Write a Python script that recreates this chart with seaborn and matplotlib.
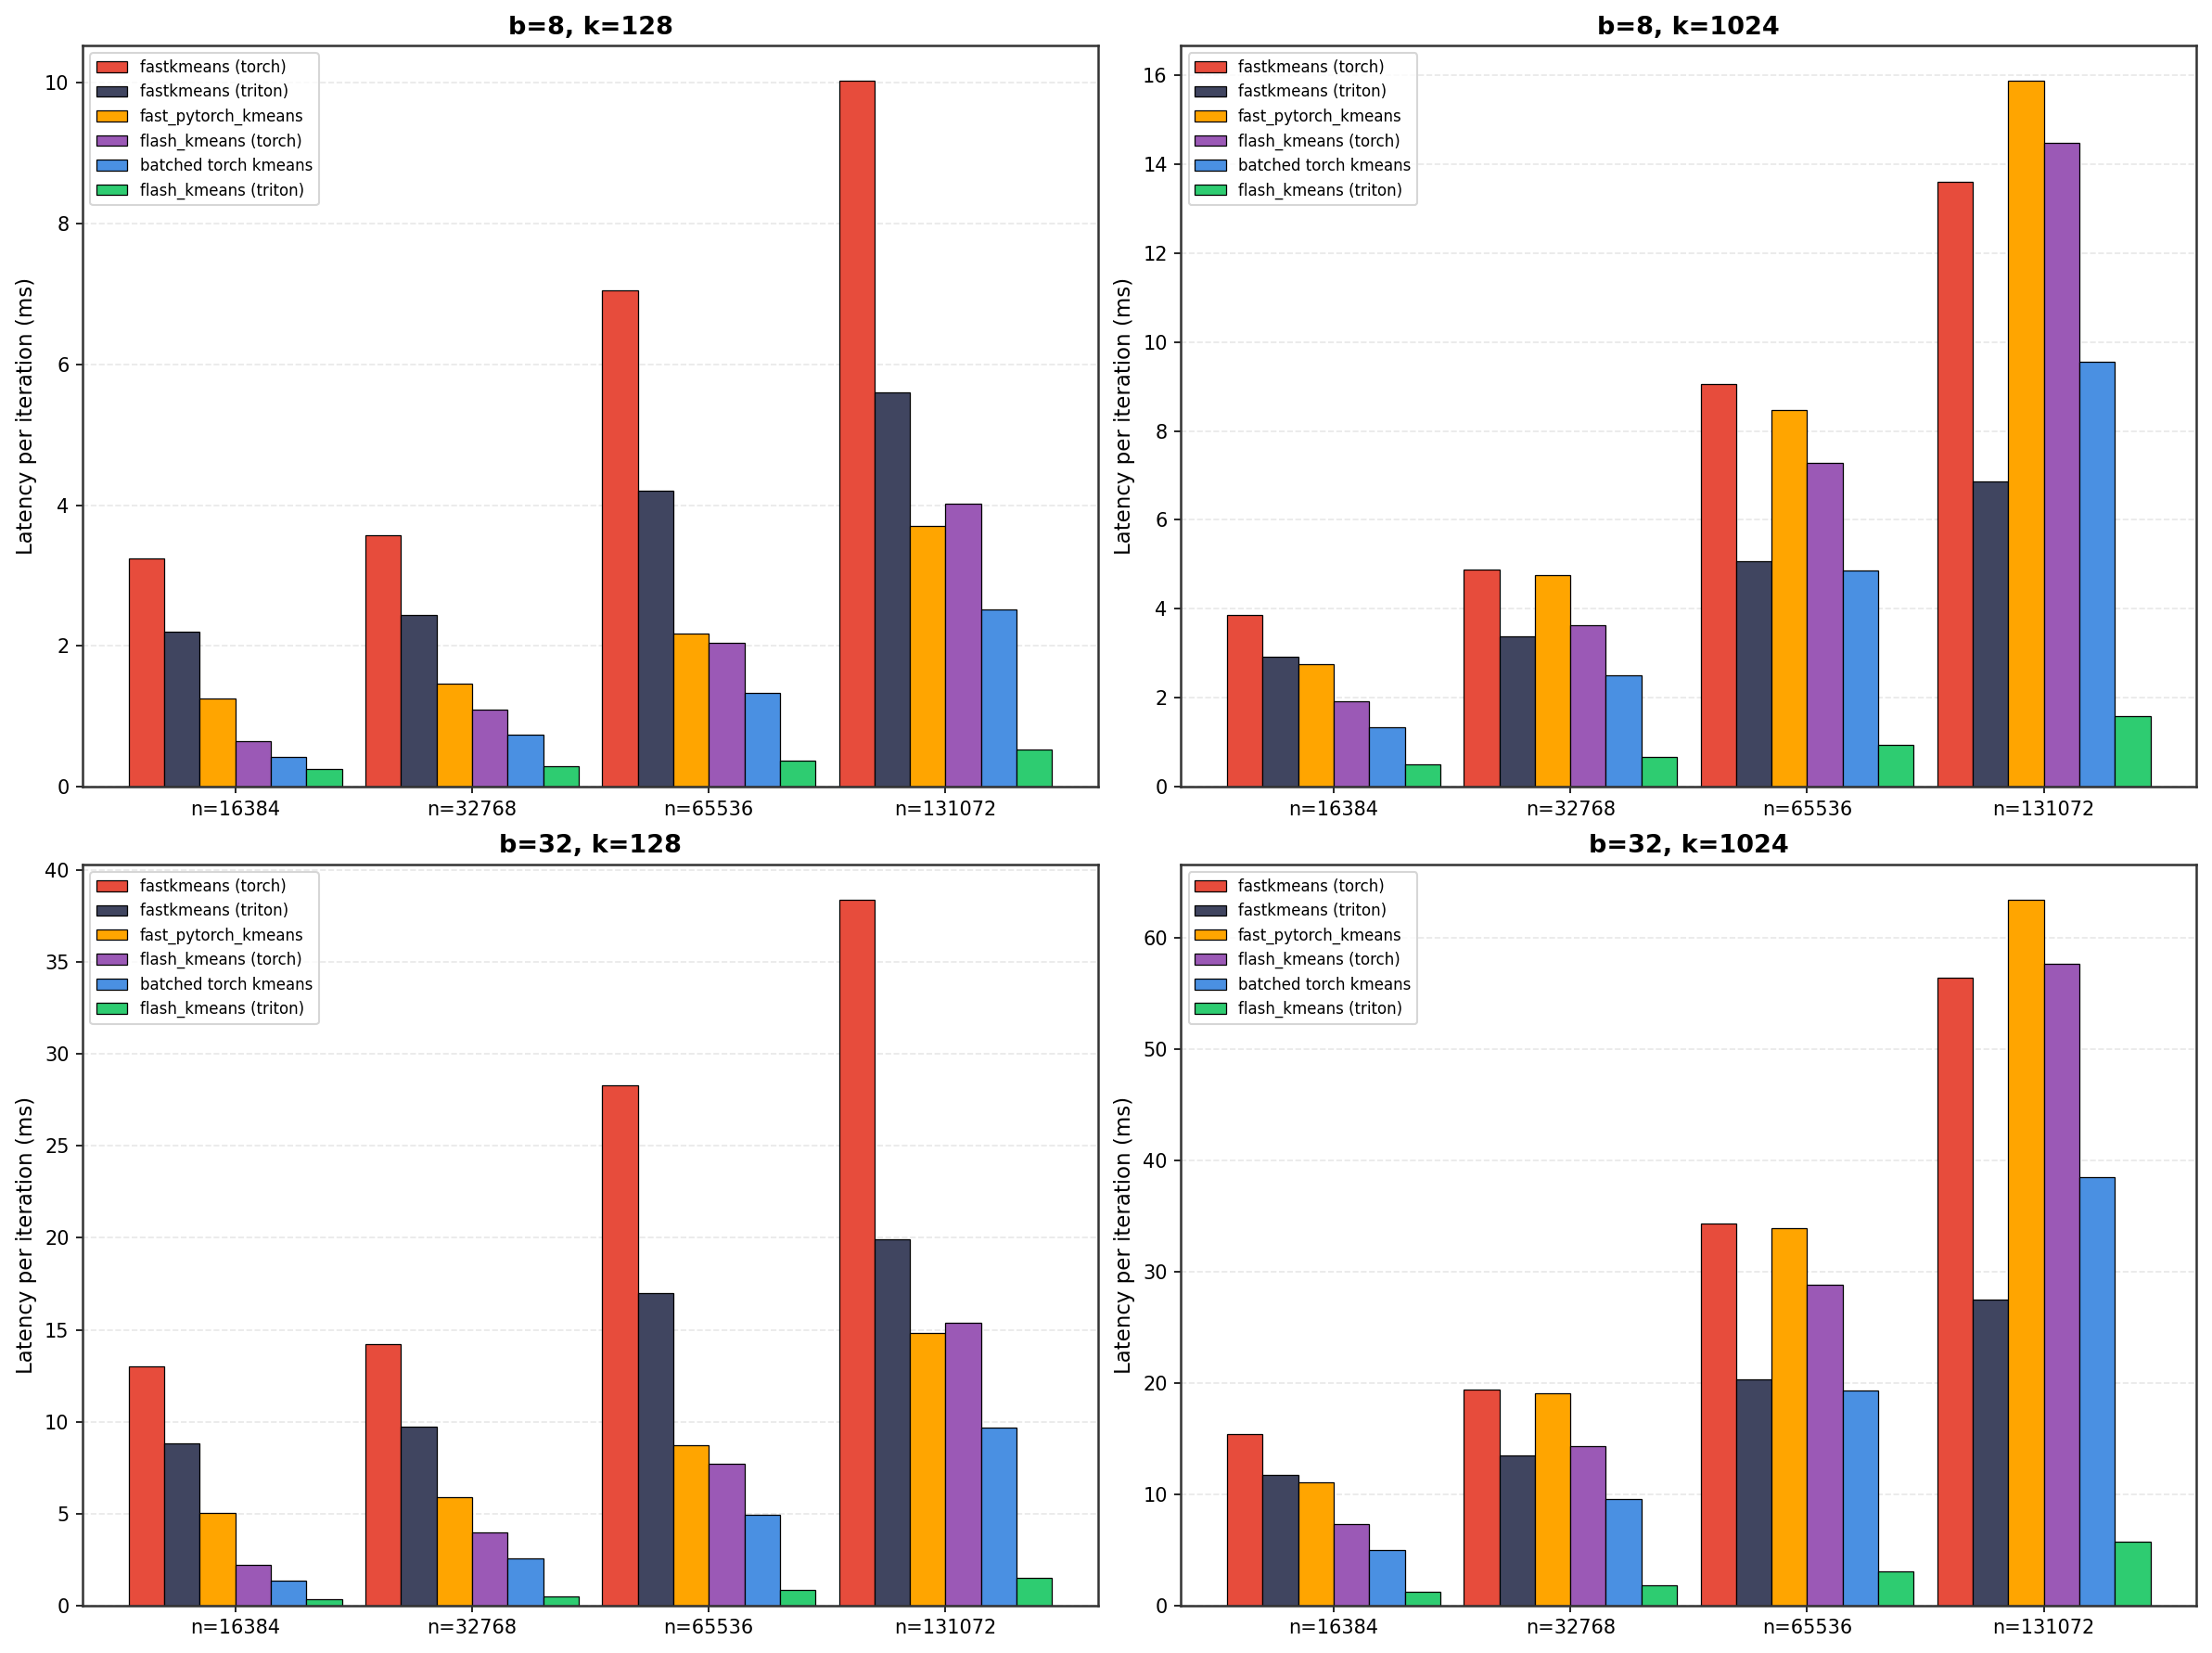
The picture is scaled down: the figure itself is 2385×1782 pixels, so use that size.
import pandas as pd
import seaborn as sns
import matplotlib.pyplot as plt

sizes = ['n=16384', 'n=32768', 'n=65536', 'n=131072']
methods = ['fastkmeans (torch)', 'fastkmeans (triton)', 'fast_pytorch_kmeans',
           'flash_kmeans (torch)', 'batched torch kmeans', 'flash_kmeans (triton)']
colors = ['#e74c3c', '#404560', '#ffa500', '#9b59b6', '#4a90e2', '#2ecc71']

# one list per method, values in the order of sizes
b8_k128 = {
    'fastkmeans (torch)': [3.25, 3.57, 7.05, 10.03],
    'fastkmeans (triton)': [2.20, 2.44, 4.20, 5.60],
    'fast_pytorch_kmeans': [1.25, 1.46, 2.17, 3.70],
    'flash_kmeans (torch)': [0.65, 1.09, 2.04, 4.02],
    'batched torch kmeans': [0.42, 0.74, 1.33, 2.52],
    'flash_kmeans (triton)': [0.25, 0.29, 0.37, 0.53],
}
b8_k1024 = {
    'fastkmeans (torch)': [3.85, 4.88, 9.06, 13.60],
    'fastkmeans (triton)': [2.92, 3.39, 5.06, 6.87],
    'fast_pytorch_kmeans': [2.75, 4.76, 8.47, 15.87],
    'flash_kmeans (torch)': [1.93, 3.64, 7.28, 14.47],
    'batched torch kmeans': [1.33, 2.50, 4.86, 9.56],
    'flash_kmeans (triton)': [0.51, 0.66, 0.95, 1.58],
}
b32_k128 = {
    'fastkmeans (torch)': [13.0, 14.2, 28.3, 38.4],
    'fastkmeans (triton)': [8.8, 9.75, 17.0, 19.9],
    'fast_pytorch_kmeans': [5.05, 5.9, 8.7, 14.8],
    'flash_kmeans (torch)': [2.2, 3.95, 7.7, 15.4],
    'batched torch kmeans': [1.33, 2.55, 4.95, 9.7],
    'flash_kmeans (triton)': [0.33, 0.5, 0.85, 1.52],
}
b32_k1024 = {
    'fastkmeans (torch)': [15.4, 19.4, 34.3, 56.4],
    'fastkmeans (triton)': [11.7, 13.5, 20.3, 27.5],
    'fast_pytorch_kmeans': [11.05, 19.1, 33.9, 63.4],
    'flash_kmeans (torch)': [7.35, 14.3, 28.8, 57.6],
    'batched torch kmeans': [4.95, 9.6, 19.3, 38.5],
    'flash_kmeans (triton)': [1.25, 1.8, 3.05, 5.7],
}

panels = [('b=8, k=128', b8_k128), ('b=8, k=1024', b8_k1024),
          ('b=32, k=128', b32_k128), ('b=32, k=1024', b32_k1024)]

fig, axes = plt.subplots(2, 2, figsize=(15.9, 11.88), dpi=150)

for ax, (title, vals) in zip(axes.flat, panels):
    rows = []
    for m in methods:
        for s, v in zip(sizes, vals[m]):
            rows.append({'n': s, 'latency': v, 'method': m})
    df = pd.DataFrame(rows)
    sns.barplot(data=df, x='n', y='latency', hue='method', order=sizes,
                hue_order=methods, palette=colors, width=0.9, gap=0,
                edgecolor='black', linewidth=0.6, saturation=1, ax=ax)
    ax.set_xlim(-0.645, 3.645)
    ax.set_title(title, fontsize=13, fontweight='bold')
    ax.set_xlabel('')
    ax.set_ylabel('Latency per iteration (ms)', fontsize=11)
    ax.tick_params(labelsize=10)
    ax.grid(axis='y', linestyle='--', alpha=0.3)
    ax.set_axisbelow(True)
    for sp in ax.spines.values():
        sp.set_color('#333333')
        sp.set_linewidth(1.2)
    ax.legend(loc='upper left', fontsize=8, title=None)

fig.tight_layout(pad=0.8)
fig.savefig('out.png', dpi=150)
